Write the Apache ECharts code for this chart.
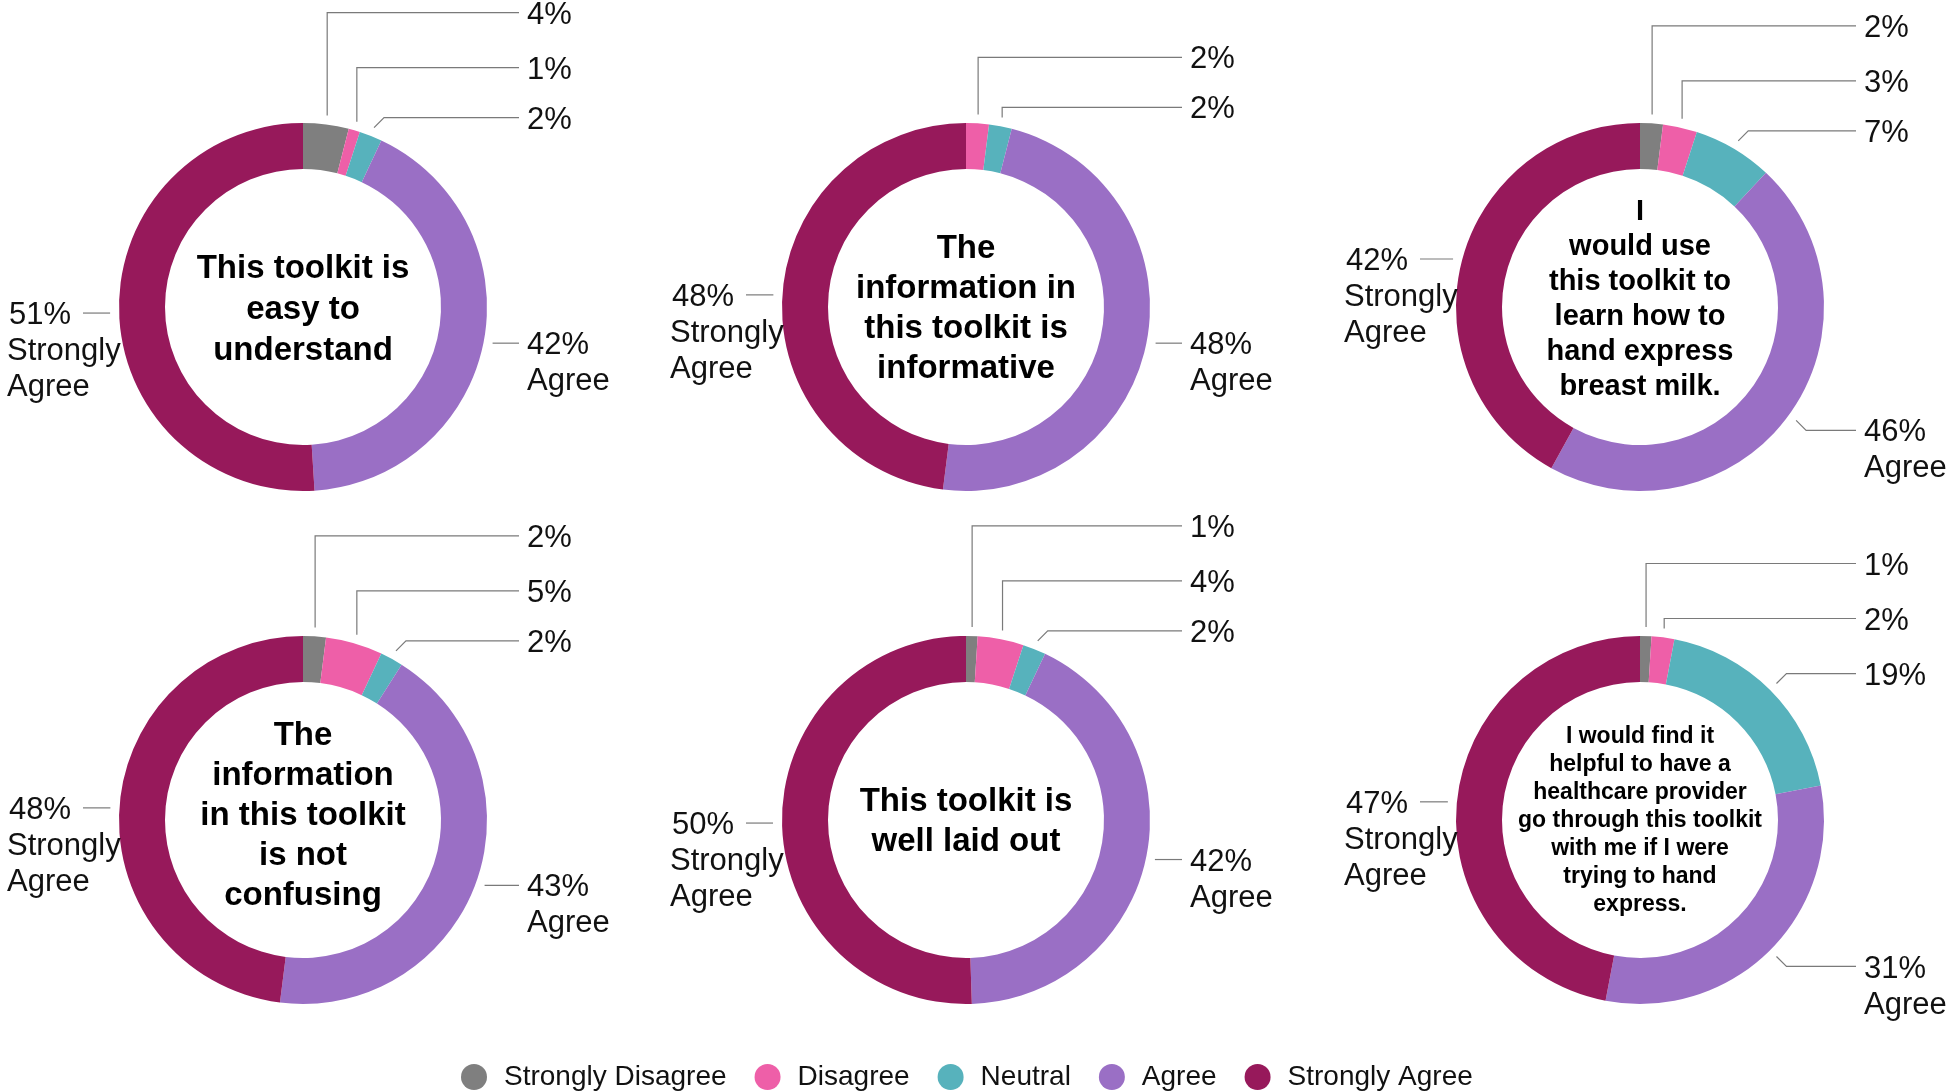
<!DOCTYPE html>
<html>
<head>
<meta charset="utf-8">
<title>Toolkit survey responses</title>
<script src="https://cdn.jsdelivr.net/npm/echarts@6/dist/echarts.min.js"></script>
<style>
  html, body { margin: 0; padding: 0; background: #fff; }
  #chart { width: 1946px; height: 1092px; }
</style>
</head>
<body>
<div id="chart"></div>
<script>
  // response scale, in the order the slices go round each ring
  var categories = ['Strongly Disagree', 'Disagree', 'Neutral', 'Agree', 'Strongly Agree']

  // one ring per statement (percent of respondents)
  var questions = [
    'This toolkit is\neasy to\nunderstand',
    'The\ninformation in\nthis toolkit is\ninformative',
    'I\nwould use\nthis toolkit to\nlearn how to\nhand express\nbreast milk.',
    'The\ninformation\nin this toolkit\nis not\nconfusing',
    'This toolkit is\nwell laid out',
    'I would find it\nhelpful to have a\nhealthcare provider\ngo through this toolkit\nwith me if I were\ntrying to hand\nexpress.'
  ]
  var easyToUnderstand = [4, 1, 2, 42, 51]
  var informative = [0, 2, 2, 48, 48]
  var wouldUse = [2, 3, 7, 46, 42]
  var notConfusing = [2, 5, 2, 43, 48]
  var wellLaidOut = [1, 4, 2, 42, 50]
  var helpfulWithProvider = [1, 2, 19, 31, 47]
  var results = [easyToUnderstand, informative, wouldUse, notConfusing, wellLaidOut, helpfulWithProvider]

  var colors = ['#7f7f7f', '#ee5fa8', '#57b2bc', '#9a6fc5', '#97195b']
  var fontFamily = 'Liberation Sans, Arial, Helvetica, sans-serif'

  // layout
  var centers = [[303, 307], [966, 307], [1640, 307], [303, 820], [966, 820], [1640, 820]]
  var outerR = 184
  var innerR = 138
  var titleFont = [33, 33, 29, 33, 33, 23]
  var titleLine = [41, 40, 35, 40, 40, 28]
  var titleDy = [3, 2, -8, -4, 2, 1]

  // where each leader line leaves its ring and where its text sits
  function leaderLayout(s) {
    var cx = centers[s][0], cy = centers[s][1]
    var vals = results[s]
    var total = vals.reduce(function (a, b) { return a + b }, 0)
    var out = []
    var cum = 0
    vals.forEach(function (v) {
      var th = (cum + v / 2) / total * 2 * Math.PI
      cum += v
      out.push({
        th: th,
        ax: cx + (outerR + 9) * Math.sin(th),
        ay: cy - (outerR + 9) * Math.cos(th)
      })
    })
    // the three small slices are stacked above the ring, lowest first
    var prev = Infinity
    for (var i = 2; i >= 0; i--) {
      if (!vals[i]) continue
      var o = out[i]
      o.lineY = Math.min(o.ay - 10, prev - (i === 0 ? 55 : 50))
      prev = o.lineY
      var x2 = o.th > 19 * Math.PI / 180 ? o.ax + (o.ay - o.lineY) : o.ax
      o.points = [[o.ax, o.ay], [x2, o.lineY], [cx + 216, o.lineY]]
      o.x = cx + 224
    }
    for (var j = 3; j < 5; j++) {
      var p = out[j]
      var right = Math.sin(p.th) > 0
      var c = Math.cos(p.th)
      var endX = right ? cx + 216 : cx - 220
      if (Math.abs(c) < 0.5) {
        p.lineY = p.ay
        p.points = [[p.ax, p.ay], [endX, p.ay]]
      } else {
        var d = c < 0 ? 10 : -10
        p.lineY = p.ay + d
        p.points = [[p.ax, p.ay], [p.ax + (right ? 10 : -10), p.lineY], [endX, p.lineY]]
      }
      p.x = right ? cx + 224 : cx - 296
    }
    return out
  }

  var chart = echarts.init(document.getElementById('chart'))

  var series = results.map(function (vals, s) {
    var lay = leaderLayout(s)
    return {
      type: 'pie',
      center: centers[s],
      radius: [innerR, outerR],
      startAngle: 90,
      clockwise: true,
      avoidLabelOverlap: false,
      silent: true,
      label: {
        show: true,
        position: 'outside',
        color: '#111',
        fontSize: 31,
        fontFamily: fontFamily,
        lineHeight: 36,
        formatter: function (p) {
          if (p.dataIndex < 3) return p.value + '%'
          if (p.dataIndex === 3) return p.value + '%\nAgree'
          return '{p|' + p.value + '%}\nStrongly\nAgree'
        },
        rich: {
          p: { fontSize: 31, fontFamily: fontFamily, color: '#111', lineHeight: 36, padding: [0, 0, 0, 2] }
        }
      },
      labelLine: {
        show: true,
        length: 10,
        length2: 10,
        lineStyle: { color: '#7a7a7a', width: 1.2 }
      },
      labelLayout: function (p) {
        var o = lay[p.dataIndex]
        if (!o || !o.points) return {}
        return {
          x: o.x,
          y: o.lineY - 15.5,
          align: 'left',
          verticalAlign: 'top',
          labelLinePoints: o.points
        }
      },
      data: vals.map(function (v, i) {
        var item = { name: categories[i], value: v, itemStyle: { color: colors[i] } }
        if (!v) {
          item.label = { show: false }
          item.labelLine = { show: false }
        }
        return item
      })
    }
  })

  var centerTexts = questions.map(function (q, i) {
    return {
      type: 'text',
      x: centers[i][0],
      y: centers[i][1] + titleDy[i],
      silent: true,
      style: {
        text: q,
        fill: '#000',
        fontSize: titleFont[i],
        fontWeight: 'bold',
        fontFamily: fontFamily,
        lineHeight: titleLine[i],
        align: 'center',
        verticalAlign: 'middle'
      }
    }
  })

  chart.setOption({
    animation: false,
    backgroundColor: '#fff',
    legend: {
      data: categories,
      left: 456,
      top: 1058,
      icon: 'circle',
      itemWidth: 50,
      itemHeight: 26,
      itemGap: 28,
      selectedMode: false,
      textStyle: { fontSize: 28, color: '#111', fontFamily: fontFamily }
    },
    graphic: centerTexts,
    series: series
  })
</script>
</body>
</html>
